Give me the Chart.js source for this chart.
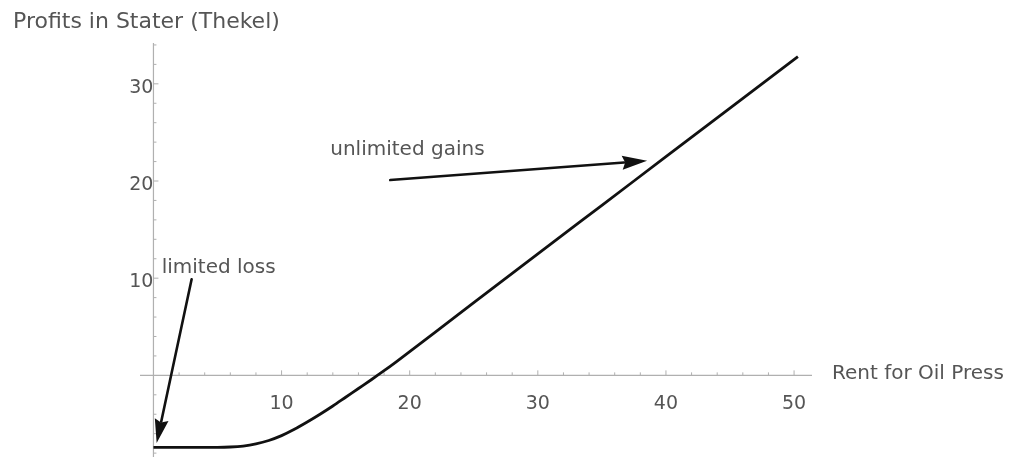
<!DOCTYPE html>
<html>
<head>
<meta charset="utf-8">
<script src="https://cdn.jsdelivr.net/npm/chart.js@4"></script>
<style>
  html, body { margin: 0; padding: 0; background: #ffffff; }
  #wrap { width: 1015px; height: 457px; position: relative; }
</style>
</head>
<body>
<div id="wrap"><canvas id="c"></canvas></div>
<script>
// ---- data ----
const rentValues   = [0, 2, 4, 5, 6, 7, 8, 9, 10, 11, 12, 13, 14, 15, 16, 17, 18, 19, 20, 22, 25, 30, 35, 40, 45, 50.3];
const profitValues = [-7.4, -7.4, -7.4, -7.4, -7.37, -7.27, -7.05, -6.7, -6.2, -5.55, -4.8, -4.0, -3.15, -2.25, -1.35, -0.45, 0.48, 1.45, 2.45, 4.45, 7.48, 12.5, 17.5, 22.5, 27.5, 32.8];
const xTickLabels = [10, 20, 30, 40, 50];
const yTickLabels = [10, 20, 30];
const xMinorTicks = [2,4,6,8,10,12,14,16,18,20,22,24,26,28,30,32,34,36,38,40,42,44,46,48,50];
const yMinorTicks = [-8,-6,-4,-2,2,4,6,8,10,12,14,16,18,20,22,24,26,28,30,32,34];
const titleText = "Profits in Stater (Thekel)";
const xAxisText = "Rent for Oil Press";
const gainsText = "unlimited gains";
const lossText = "limited loss";
const gainsTextPos = [13.8, 23.2];
const lossTextPos = [0.64, 11.1];
const gainsArrow = [[18.48, 20.1], [38.53, 22.08]];
const lossArrow = [[2.98, 9.89], [0.25, -6.97]];

const FONT = "'DejaVu Sans', sans-serif";
const TEXT_COLOR = '#555555';
const AXIS_COLOR = '#b0b0b0';

function drawArrow(ctx, x1, y1, x2, y2, headLen, headW) {
  const ang = Math.atan2(y2 - y1, x2 - x1);
  const bx = x2 - headLen * Math.cos(ang), by = y2 - headLen * Math.sin(ang);
  ctx.save();
  ctx.strokeStyle = '#111'; ctx.fillStyle = '#111';
  ctx.lineWidth = 2.6; ctx.lineCap = 'round';
  ctx.beginPath(); ctx.moveTo(x1, y1); ctx.lineTo(bx + 2 * Math.cos(ang), by + 2 * Math.sin(ang)); ctx.stroke();
  ctx.beginPath();
  ctx.moveTo(x2, y2);
  ctx.lineTo(bx + headW / 2 * Math.sin(ang), by - headW / 2 * Math.cos(ang));
  ctx.lineTo(bx + 3 * Math.cos(ang), by + 3 * Math.sin(ang));
  ctx.lineTo(bx - headW / 2 * Math.sin(ang), by + headW / 2 * Math.cos(ang));
  ctx.closePath(); ctx.fill();
  ctx.restore();
}

function zeroFit(s) {
  if (s.isHorizontal()) { s.height = 0; } else { s.width = 0; }
  s.paddingTop = 0; s.paddingBottom = 0; s.paddingLeft = 0; s.paddingRight = 0;
}

const decor = {
  id: 'decor',
  beforeDatasetsDraw(chart) {
    const ctx = chart.ctx, xs = chart.scales.x, ys = chart.scales.y, a = chart.chartArea;
    const x0 = xs.getPixelForValue(0), y0 = ys.getPixelForValue(0);
    ctx.save();
    ctx.strokeStyle = AXIS_COLOR; ctx.lineWidth = 1.2;
    ctx.beginPath(); ctx.moveTo(a.left, y0); ctx.lineTo(a.right, y0); ctx.stroke();
    ctx.beginPath(); ctx.moveTo(x0, a.top); ctx.lineTo(x0, a.bottom); ctx.stroke();
    ctx.lineWidth = 1;
    xMinorTicks.forEach(v => {
      const p = xs.getPixelForValue(v), len = (v % 10 === 0) ? 5 : 3;
      ctx.beginPath(); ctx.moveTo(p, y0); ctx.lineTo(p, y0 - len); ctx.stroke();
    });
    yMinorTicks.forEach(v => {
      const p = ys.getPixelForValue(v), len = (v % 10 === 0) ? 5 : 3;
      ctx.beginPath(); ctx.moveTo(x0, p); ctx.lineTo(x0 + len, p); ctx.stroke();
    });
    ctx.restore();
  },
  afterDraw(chart) {
    const ctx = chart.ctx, xs = chart.scales.x, ys = chart.scales.y, a = chart.chartArea;
    const px = v => xs.getPixelForValue(v), py = v => ys.getPixelForValue(v);
    ctx.save();
    ctx.fillStyle = TEXT_COLOR; ctx.textBaseline = 'middle'; ctx.textAlign = 'left';
    ctx.font = "22px " + FONT;
    ctx.fillText(titleText, 13, 22);
    ctx.font = "20px " + FONT;
    ctx.fillText(xAxisText, a.right + 20, py(0) - 2);
    ctx.fillText(gainsText, px(gainsTextPos[0]), py(gainsTextPos[1]));
    ctx.fillText(lossText, px(lossTextPos[0]), py(lossTextPos[1]));
    ctx.restore();
    drawArrow(ctx, px(gainsArrow[0][0]), py(gainsArrow[0][1]), px(gainsArrow[1][0]), py(gainsArrow[1][1]), 25, 14);
    drawArrow(ctx, px(lossArrow[0][0]), py(lossArrow[0][1]), px(lossArrow[1][0]), py(lossArrow[1][1]), 24, 14);
  }
};

new Chart(document.getElementById('c'), {
  type: 'scatter',
  data: {
    datasets: [{
      data: rentValues.map((x, i) => ({ x: x, y: profitValues[i] })),
      showLine: true,
      borderColor: '#111111',
      borderWidth: 2.8,
      pointRadius: 0,
      cubicInterpolationMode: 'monotone',
      fill: false
    }]
  },
  options: {
    responsive: true,
    maintainAspectRatio: false,
    animation: false,
    layout: { padding: { left: 140, right: 203, top: 43, bottom: 0 } },
    plugins: { legend: { display: false }, tooltip: { enabled: false }, title: { display: false } },
    scales: {
      x: {
        type: 'linear', position: { y: 0 }, min: -1.05, max: 51.4,
        grid: { display: false }, border: { display: false },
        afterBuildTicks: s => { s.ticks = xTickLabels.map(v => ({ value: v })); },
        afterFit: zeroFit,
        ticks: { color: TEXT_COLOR, font: { family: FONT, size: 19 }, padding: 9, maxRotation: 0, autoSkip: false }
      },
      y: {
        type: 'linear', position: { x: 0 }, min: -8.4, max: 34.2,
        grid: { display: false }, border: { display: false },
        afterBuildTicks: s => { s.ticks = yTickLabels.map(v => ({ value: v })); },
        afterFit: zeroFit,
        ticks: { color: TEXT_COLOR, font: { family: FONT, size: 19 }, padding: 19, labelOffset: 4, autoSkip: false }
      }
    }
  },
  plugins: [decor]
});
</script>
</body>
</html>
